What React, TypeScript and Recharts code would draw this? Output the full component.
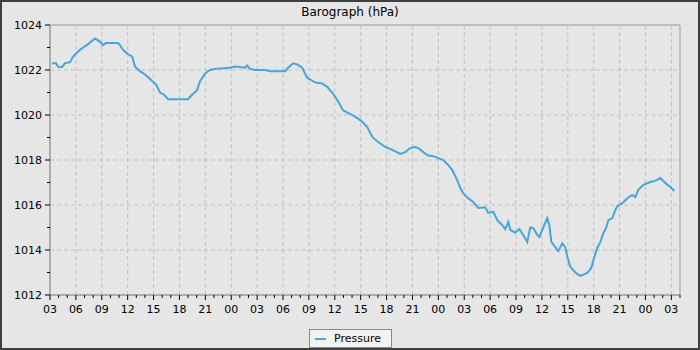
import React from 'react';
import { LineChart, Line, XAxis, YAxis, ReferenceLine, ReferenceArea } from 'recharts';

// hours since 03:00 on the first day
const hours = [
  0.23, 0.7, 0.93, 1.39, 1.74, 2.32, 2.67, 3.48, 4.41, 5.22, 5.8, 6.14, 6.49, 7.88, 8.12, 8.46,
  9.04, 9.51, 9.86, 10.43, 11.01, 11.59, 12.29, 12.75, 13.22, 13.68, 16.0, 16.46, 17.04, 17.39,
  17.97, 18.55, 19.13, 20.87, 21.45, 22.61, 22.84, 23.19, 23.77, 24.93, 25.51, 27.25, 27.59,
  28.17, 28.64, 29.22, 29.8, 30.72, 31.54, 32.12, 32.7, 33.39, 33.97, 34.78, 35.59, 36.17,
  36.75, 37.1, 37.45, 38.03, 38.84, 39.65, 40.58, 41.16, 41.74, 42.32, 42.67, 43.25, 43.83,
  44.41, 45.57, 46.14, 46.61, 47.19, 47.54, 47.88, 48.46, 49.04, 49.62, 50.43, 50.78, 51.36,
  51.83, 52.41, 52.75, 53.1, 53.33, 53.91, 54.38, 54.84, 55.3, 55.65, 56.0, 56.46, 56.7, 57.16,
  57.62, 57.86, 58.09, 58.55, 58.9, 59.36, 59.71, 59.94, 60.29, 60.87, 61.45, 62.26, 62.72,
  62.96, 63.42, 63.77, 64.12, 64.46, 64.7, 65.16, 65.51, 65.74, 66.32, 66.9, 67.48, 67.83,
  68.17, 68.75, 69.57, 70.14, 70.72, 71.3, 71.88, 72.35,
];

const pressure = [
  1022.3, 1022.3, 1022.15, 1022.13, 1022.3, 1022.35, 1022.6, 1022.9, 1023.15, 1023.4, 1023.25,
  1023.1, 1023.2, 1023.2, 1023.1, 1022.9, 1022.7, 1022.6, 1022.15, 1021.95, 1021.8, 1021.6,
  1021.35, 1021.0, 1020.9, 1020.7, 1020.7, 1020.9, 1021.1, 1021.5, 1021.85, 1022.0, 1022.05,
  1022.1, 1022.15, 1022.1, 1022.2, 1022.05, 1022.0, 1022.0, 1021.95, 1021.95, 1022.1, 1022.3,
  1022.25, 1022.1, 1021.65, 1021.45, 1021.4, 1021.25, 1021.0, 1020.6, 1020.2, 1020.05, 1019.87,
  1019.7, 1019.47, 1019.2, 1018.98, 1018.8, 1018.58, 1018.45, 1018.27, 1018.35, 1018.53,
  1018.58, 1018.53, 1018.35, 1018.2, 1018.17, 1018.0, 1017.78, 1017.55, 1017.1, 1016.75,
  1016.53, 1016.3, 1016.13, 1015.87, 1015.9, 1015.65, 1015.7, 1015.33, 1015.1, 1014.93,
  1015.25, 1014.9, 1014.77, 1014.93, 1014.67, 1014.36, 1015.0, 1014.97, 1014.67, 1014.58,
  1015.0, 1015.42, 1015.1, 1014.36, 1014.13, 1013.95, 1014.3, 1014.13, 1013.7, 1013.25, 1013.0,
  1012.85, 1012.98, 1013.2, 1013.55, 1014.1, 1014.35, 1014.75, 1015.0, 1015.33, 1015.42,
  1015.78, 1015.95, 1016.08, 1016.3, 1016.45, 1016.35, 1016.67, 1016.9, 1017.02, 1017.07,
  1017.2, 1016.98, 1016.8, 1016.62,
];

const xTicks = Array.from({ length: 74 }, (_, i) => i);
const xGrid = [3, 6, 9, 12, 15, 18, 21, 24, 27, 30, 33, 36, 39, 42, 45, 48, 51, 54, 57, 60, 63, 66, 69, 72];
const yTicks = [1012, 1013, 1014, 1015, 1016, 1017, 1018, 1019, 1020, 1021, 1022, 1023, 1024];
const yGrid = [1014, 1016, 1018, 1020, 1022];

const data = hours.map((h, i) => ({ t: h, p: pressure[i] }));

const FONT = 'DejaVu Sans';
const LINE = '#47a5d8';
const GRID = '#c0c0c0';

const hourLabel = (v: number) => String((v + 3) % 24).padStart(2, '0');

function XTick(props: any) {
  const { x, y, payload } = props;
  const major = payload.value % 3 === 0;
  return (
    <g>
      <line x1={x} y1={y} x2={x} y2={y + (major ? 5 : 3)} stroke="#000" />
      {major && (
        <text x={x} y={y + 18} textAnchor="middle" fontSize={11} fontFamily={FONT} fill="#000">
          {hourLabel(payload.value)}
        </text>
      )}
    </g>
  );
}

function YTick(props: any) {
  const { x, y, payload } = props;
  const major = payload.value % 2 === 0;
  return (
    <g>
      <line x1={x} y1={y} x2={x - (major ? 5 : 3)} y2={y} stroke="#000" />
      {major && (
        <text x={x - 8} y={y + 4} textAnchor="end" fontSize={11} fontFamily={FONT} fill="#000">
          {payload.value}
        </text>
      )}
    </g>
  );
}

export default function App() {
  return (
    <div
      style={{
        position: 'absolute',
        left: 0,
        top: 0,
        width: 700,
        height: 350,
        boxSizing: 'border-box',
        border: '2px solid #3f3f3f',
        background: '#e6e6e6',
        fontFamily: FONT,
      }}
    >
      <div style={{ position: 'absolute', left: -2, top: -2, width: 700, height: 350 }}>
        <LineChart width={700} height={350} data={data} margin={{ top: 25, right: 20, bottom: 25, left: 0 }}>
          <XAxis
            dataKey="t"
            type="number"
            domain={[0, 73]}
            ticks={xTicks}
            interval={0}
            height={30}
            tickSize={0}
            tickMargin={0}
            tickLine={false}
            axisLine={{ stroke: '#999' }}
            tick={<XTick />}
          />
          <YAxis
            type="number"
            domain={[1012, 1024]}
            ticks={yTicks}
            interval={0}
            width={50}
            tickSize={0}
            tickMargin={0}
            tickLine={false}
            axisLine={{ stroke: '#999' }}
            tick={<YTick />}
          />
          {xGrid.map((v) => (
            <ReferenceLine key={'x' + v} x={v} stroke={GRID} strokeDasharray="4 3" />
          ))}
          {yGrid.map((v) => (
            <ReferenceLine key={'y' + v} y={v} stroke={GRID} strokeDasharray="4 3" />
          ))}
          <ReferenceArea x1={0} x2={73} y1={1012} y2={1024} fill="none" fillOpacity={0} stroke="#999" />
          <Line
            dataKey="p"
            name="Pressure"
            type="linear"
            stroke={LINE}
            strokeWidth={2}
            dot={false}
            isAnimationActive={false}
          />
        </LineChart>
      </div>
      <div
        style={{
          position: 'absolute',
          left: 0,
          top: 3,
          width: 696,
          textAlign: 'center',
          fontSize: 12,
          color: '#000',
        }}
      >
        Barograph (hPa)
      </div>
      <div
        style={{
          position: 'absolute',
          left: 307,
          top: 327,
          width: 81,
          height: 17,
          border: '1px solid #888',
          background: '#f2f2f2',
          fontSize: 11,
          color: '#000',
        }}
      >
        <span
          style={{ position: 'absolute', left: 5, top: 8, width: 11, height: 2, background: LINE }}
        />
        <span style={{ position: 'absolute', left: 24, top: 2 }}>Pressure</span>
      </div>
    </div>
  );
}
